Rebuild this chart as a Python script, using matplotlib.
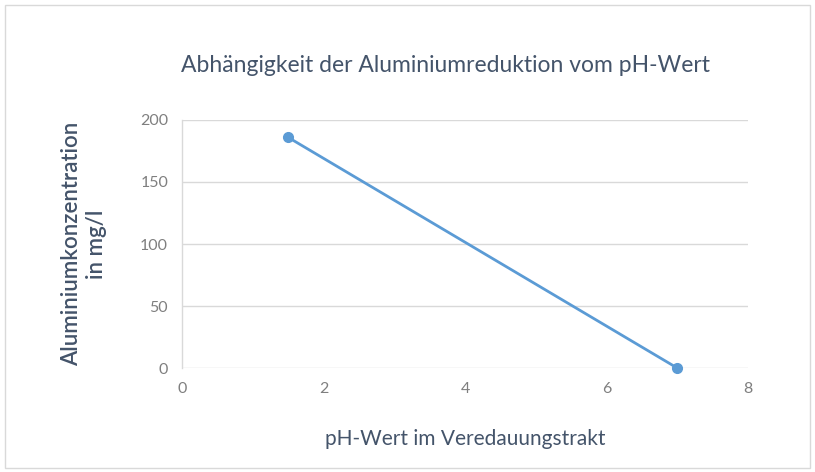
import matplotlib.pyplot as plt
from matplotlib.patches import Rectangle

# data
ph_values = [1.5, 7.0]
aluminium = [186, 0]
x_ticks = [0, 2, 4, 6, 8]
y_ticks = [0, 50, 100, 150, 200]

title = "Abhängigkeit der Aluminiumreduktion vom pH-Wert"
x_label = "pH-Wert im Veredauungstrakt"
y_label = "Aluminiumkonzentration\nin mg/l"

plt.rcParams['font.family'] = ['Lato', 'DejaVu Sans']

fig = plt.figure(figsize=(8.15, 4.72), dpi=100)
ax = fig.add_axes([0.2233, 0.2203, 0.6945, 0.5255])

# outer chart border
fig.patches.append(Rectangle((0.006, 0.008), 0.988, 0.982, transform=fig.transFigure,
                             fill=False, edgecolor='#d9d9d9', linewidth=1))

ax.plot(ph_values, aluminium, color='#5b9bd5', linewidth=2, marker='o',
        markersize=7, zorder=3, clip_on=False)

ax.set_xlim(0, 8)
ax.set_ylim(0, 200)
ax.set_xticks(x_ticks)
ax.set_yticks(y_ticks)

ax.grid(axis='y', color='#d9d9d9', linewidth=1)
ax.set_axisbelow(True)
for side in ['top', 'right', 'bottom']:
    ax.spines[side].set_visible(False)
ax.spines['left'].set_color('#d9d9d9')
ax.spines['left'].set_linewidth(1)
ax.tick_params(length=0, labelsize=11.5, labelcolor='#7f7f7f', pad=10)

fig.text(0.547, 0.862, title, ha='center', va='center', fontsize=16.5, color='#44546a')
ax.set_xlabel(x_label, fontsize=15, color='#44546a', labelpad=24)
ax.set_ylabel(y_label, fontsize=16, color='#44546a', labelpad=24, linespacing=1.2,
              fontweight='semibold')

fig.savefig('out.png', dpi=100)
